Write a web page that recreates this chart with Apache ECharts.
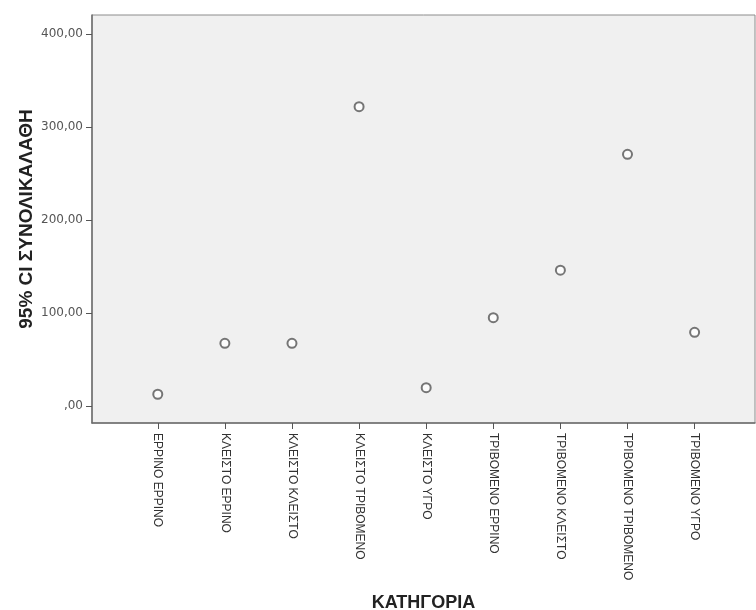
<!DOCTYPE html>
<html>
<head>
<meta charset="utf-8">
<script src="https://cdn.jsdelivr.net/npm/echarts@6/dist/echarts.min.js"></script>
<style>
  html, body { margin: 0; padding: 0; background: #fff; }
  #chart { width: 756px; height: 610px; }
</style>
</head>
<body>
<div id="chart"></div>
<script>
// κατηγορίες και τιμές (95% CI συνολικά λάθη)
var categories = [
  'ΕΡΡΙΝΟ ΕΡΡΙΝΟ', 'ΚΛΕΙΣΤΟ ΕΡΡΙΝΟ', 'ΚΛΕΙΣΤΟ ΚΛΕΙΣΤΟ', 'ΚΛΕΙΣΤΟ ΤΡΙΒΟΜΕΝΟ',
  'ΚΛΕΙΣΤΟ ΥΓΡΟ', 'ΤΡΙΒΟΜΕΝΟ ΕΡΡΙΝΟ', 'ΤΡΙΒΟΜΕΝΟ ΚΛΕΙΣΤΟ',
  'ΤΡΙΒΟΜΕΝΟ ΤΡΙΒΟΜΕΝΟ', 'ΤΡΙΒΟΜΕΝΟ ΥΓΡΟ'
]
var values = [12.6, 67.4, 67.4, 321.8, 19.7, 95.0, 146.0, 270.6, 79.2]
var yTicks = [0, 100, 200, 300, 400]
var yTickLabels = [',00', '100,00', '200,00', '300,00', '400,00']

var chart = echarts.init(document.getElementById('chart'), null, { renderer: 'canvas' })

var xIdx = categories.map(function (c, i) { return i })
var points = values.map(function (v, i) { return [i, v] })

var option = {
  backgroundColor: '#ffffff',
  animation: false,
  grid: {
    left: 92, top: 15, right: 1, bottom: 187,
    outerBoundsMode: 'none',
    containLabel: false,
    show: true,
    backgroundColor: '#f0f0f0',
    borderColor: '#8c8c8c',
    borderWidth: 1
  },
  xAxis: {
    type: 'value',
    min: -0.98,
    max: 8.9,
    name: 'ΚΑΤΗΓΟΡΙΑ',
    nameLocation: 'middle',
    nameGap: 171,
    nameTextStyle: { fontFamily: 'Liberation Sans', fontWeight: 'bold', fontSize: 18, color: '#222' },
    splitLine: { show: false },
    axisLine: { show: true, onZero: false, lineStyle: { color: '#6e6e6e', width: 1.5 } },
    axisTick: { show: true, customValues: xIdx, length: 6, lineStyle: { color: '#555' } },
    axisLabel: {
      customValues: xIdx,
      rotate: -90,
      margin: 10,
      fontFamily: 'Liberation Sans',
      fontSize: 12,
      color: '#333',
      formatter: function (v) { return categories[Math.round(v)] || '' }
    }
  },
  yAxis: {
    type: 'value',
    min: -18.3,
    max: 420.4,
    name: '95% CI ΣΥΝΟΛΙΚΑΛΑΘΗ',
    nameLocation: 'middle',
    nameGap: 56,
    nameMoveOverlap: false,
    nameTextStyle: { fontFamily: 'Liberation Sans', fontWeight: 'bold', fontSize: 19, color: '#222' },
    splitLine: { show: false },
    axisLine: { show: true, onZero: false, lineStyle: { color: '#6e6e6e', width: 1.5 } },
    axisTick: { show: true, customValues: yTicks, length: 6, lineStyle: { color: '#555' } },
    axisLabel: {
      customValues: yTicks,
      margin: 9,
      fontFamily: 'DejaVu Sans',
      fontSize: 12,
      color: '#555',
      formatter: function (v) {
        var i = yTicks.indexOf(Math.round(v))
        return i >= 0 ? yTickLabels[i] : ''
      }
    }
  },
  series: [
    {
      type: 'scatter',
      symbol: 'emptyCircle',
      symbolSize: 9,
      itemStyle: { color: '#555', borderColor: '#555', borderWidth: 1.5 },
      data: points
    }
  ]
}
chart.setOption(option)
window.addEventListener('resize', function () { chart.resize() })
</script>
</body>
</html>
